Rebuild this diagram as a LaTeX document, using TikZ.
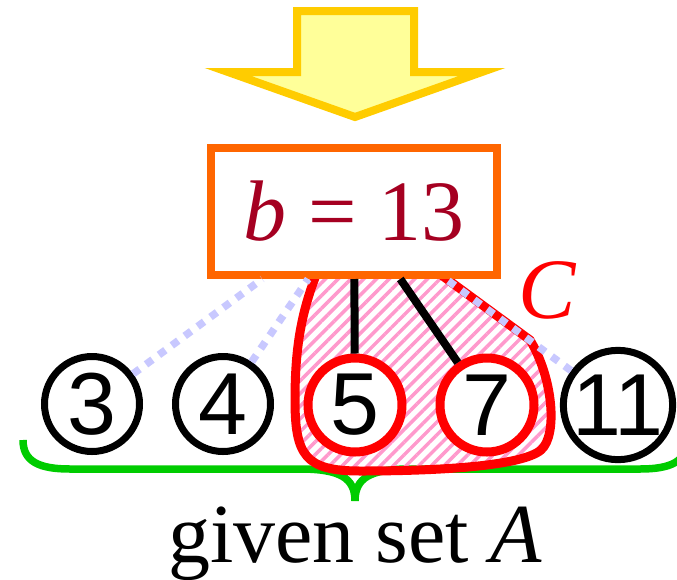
\documentclass[tikz,border=0pt]{standalone}
\usepackage{fontspec}
\setmainfont{Liberation Serif}
\newfontfamily\numfont{Liberation Sans}
\usetikzlibrary{patterns.meta}
\definecolor{arrowfill}{HTML}{FFFF99}
\definecolor{arrowline}{HTML}{FFCC00}
\definecolor{boxline}{HTML}{FF6600}
\definecolor{bval}{HTML}{A50021}
\definecolor{dotblue}{HTML}{C8C8FF}
\definecolor{hatch}{HTML}{FF99CC}
\definecolor{bracegreen}{HTML}{00CC00}

\begin{document}
\begin{tikzpicture}[x=1pt,y=-1pt,
  elem/.style={circle,draw,line width=7pt,minimum size=95pt,inner sep=0pt,fill=white,font=\numfont\fontsize{88}{88}\selectfont},
  chosen/.style={elem,draw=red,line width=9pt,minimum size=94pt},
  skip/.style={dotblue,line width=7.5pt,dash pattern=on 8pt off 8pt},
  pick/.style={line width=8pt}]
\useasboundingbox (0,0) rectangle (677,579);
\clip (0,0) rectangle (677,579);

% Arrow
\draw[line width=8pt,draw=arrowline,fill=arrowfill,line join=miter]
  (297,11) -- (414,11) -- (414,72) -- (482,72) -- (355,117) -- (228,72) -- (297,72) -- cycle;

% Brace
\draw[bracegreen,line width=7.5pt]
  (23,440) .. controls (23,462) and (40,469) .. (70,469) -- (300,469)
  .. controls (340,469) and (355,478) .. (355,501)
  .. controls (355,478) and (370,469) .. (410,469) -- (640,469)
  .. controls (670,469) and (687,462) .. (687,440);
\node[anchor=base,font=\fontsize{84}{84}\selectfont] (setA) at (355,562) {given set \textit{A}};

% Subset C
\draw[line width=9pt,red,pattern={Lines[angle=45,distance=9pt,line width=3.5pt]},pattern color=hatch]
  (318,270) .. controls (302,310) and (295,345) .. (295,400)
  .. controls (295,455) and (305,471) .. (360,471)
  .. controls (440,471) and (522,466) .. (541,450)
  .. controls (558,435) and (553,378) .. (530,340) -- (440,274) -- cycle;

\node[draw=boxline,line width=8pt,fill=white,minimum width=286pt,minimum height=127pt,inner sep=0pt,text=bval,font=\fontsize{86}{86}\selectfont] (box) at (354,211.5) {\textit{b} = 13};

\node[elem] (c3) at (92,404) {3};
\node[elem] (c4) at (223,404) {4};
\node[chosen] (c5) at (355,405) {5};
\node[chosen] (c7) at (487,405) {7};
\node[elem] (c11) at (618,405) {11};

\draw[skip] (c3) -- (box);
\draw[skip] (c4) -- (box);
\draw[skip] (c11) -- (box);
\draw[pick] (c5) -- (box);
\draw[pick] (c7) -- (box);

\node[red,font=\fontsize{86}{86}\selectfont\itshape] (clabel) at (547,290) {C};
\end{tikzpicture}
\end{document}
